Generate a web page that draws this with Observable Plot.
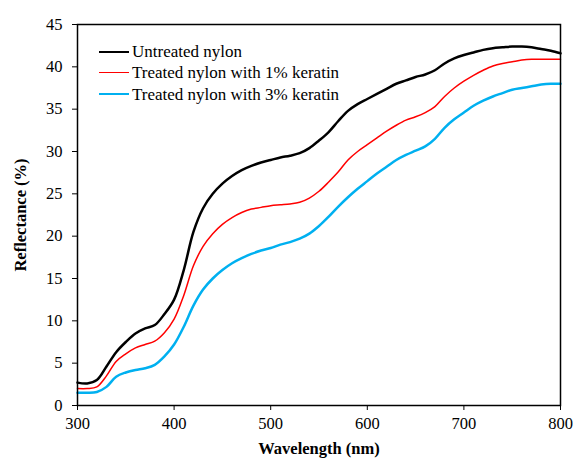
<!DOCTYPE html>
<html>
<head>
<meta charset="utf-8">
<script src="https://cdn.jsdelivr.net/npm/d3@7"></script>
<script src="https://cdn.jsdelivr.net/npm/@observablehq/plot@0.6"></script>
<style>
  html, body { margin: 0; padding: 0; background: #fff; }
  #wrap { position: relative; width: 577px; height: 458px; font-family: "Liberation Serif", "Times New Roman", serif; }
  #wrap svg, #wrap svg g, #wrap svg text { font-family: "Liberation Serif", "Times New Roman", serif !important; font-variant: normal !important; }
  #wrap svg [aria-label$="-axis label"] text { font-weight: bold; }
  #legend { position: absolute; left: 99px; top: 41px; font-size: 17px; color: #000; line-height: 21.3px; }
  #legend .row { display: flex; align-items: center; white-space: nowrap; }
  #legend .sw { width: 30px; margin-right: 3px; }
</style>
</head>
<body>
<div id="wrap"></div>
<script>
const wavelengths = [300,310,320,330,340,350,360,370,380,390,400,410,420,430,440,450,460,470,480,490,500,510,520,530,540,550,560,570,580,590,600,610,620,630,640,650,660,670,680,690,700,710,720,730,740,750,760,770,780,790,800];
const untreated = [2.7,2.6,3.0,4.6,6.3,7.5,8.5,9.1,9.5,10.8,12.5,16.0,20.5,23.3,25.0,26.2,27.1,27.8,28.3,28.7,29.0,29.3,29.5,29.8,30.4,31.3,32.3,33.6,34.8,35.6,36.2,36.8,37.4,38.0,38.4,38.8,39.1,39.6,40.4,41.0,41.4,41.7,42.0,42.2,42.3,42.4,42.4,42.3,42.1,41.9,41.6];
const keratin1 = [2.0,2.0,2.2,3.5,5.2,6.1,6.8,7.2,7.6,8.6,10.2,13.0,16.5,18.8,20.3,21.4,22.2,22.8,23.2,23.4,23.6,23.7,23.8,24.0,24.5,25.3,26.4,27.6,29.0,30.0,30.8,31.6,32.4,33.1,33.7,34.1,34.6,35.3,36.5,37.5,38.3,39.0,39.6,40.1,40.4,40.6,40.8,40.9,40.9,40.9,40.9];
const keratin3 = [1.5,1.5,1.6,2.2,3.4,3.9,4.2,4.4,4.8,5.8,7.2,9.3,11.8,13.7,15.0,16.0,16.8,17.4,17.9,18.3,18.6,19.0,19.3,19.7,20.3,21.2,22.3,23.5,24.6,25.6,26.5,27.4,28.2,29.0,29.6,30.1,30.6,31.5,32.8,33.8,34.6,35.4,36.0,36.5,36.9,37.3,37.5,37.7,37.9,38.0,38.0];
const seriesNames = ["Untreated nylon", "Treated nylon with 1% keratin", "Treated nylon with 3% keratin"];
const seriesColors = ["#000000", "#ff0000", "#00b0f0"];
const seriesWidths = [2.5, 1.5, 2.5];
const xTicks = [300,400,500,600,700,800];
const yTicks = [0,5,10,15,20,25,30,35,40,45];

const allSeries = [untreated, keratin1, keratin3];
const rows = allSeries.map((vals, i) => wavelengths.map((w, j) => ({w, r: vals[j], s: seriesNames[i]})));

const chart = Plot.plot({
  width: 577,
  height: 458,
  marginLeft: 77,
  marginRight: 17,
  marginTop: 24,
  marginBottom: 53,
  style: {fontSize: "16.5px", fontFamily: "'Liberation Serif', 'Times New Roman', serif", color: "#000", background: "#fff", overflow: "visible"},
  x: {domain: [300, 800], ticks: xTicks, tickSize: 5, tickPadding: 7, label: "Wavelength (nm)", labelAnchor: "center", labelArrow: "none", labelOffset: 48},
  y: {domain: [0, 45], ticks: yTicks, tickSize: 5, tickPadding: 10, label: "Reflectance (%)", labelAnchor: "center", labelArrow: "none", labelOffset: 63},
  marks: [
    ...rows.map((d, i) => Plot.line(d, {x: "w", y: "r", stroke: seriesColors[i], strokeWidth: seriesWidths[i], curve: "catmull-rom"})),
    Plot.frame({stroke: "#000", strokeWidth: 1.5})
  ]
});
const wrap = document.getElementById("wrap");
wrap.appendChild(chart);

const legend = document.createElement("div");
legend.id = "legend";
seriesNames.forEach((name, i) => {
  const row = document.createElement("div");
  row.className = "row";
  const sw = document.createElement("span");
  sw.className = "sw";
  sw.style.borderTop = seriesWidths[i] + "px solid " + seriesColors[i];
  const t = document.createElement("span");
  t.textContent = name;
  row.appendChild(sw); row.appendChild(t);
  legend.appendChild(row);
});
wrap.appendChild(legend);
</script>
</body>
</html>
